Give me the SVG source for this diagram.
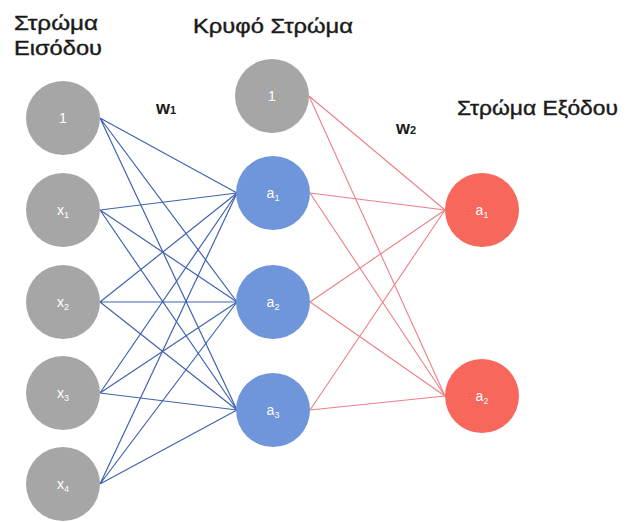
<svg xmlns="http://www.w3.org/2000/svg" width="627" height="522" viewBox="0 0 627 522">
<style>
.in{fill:#a6a6a6}
.hid{fill:#6f95db}
.out{fill:#f8675b}
.lbl{font-family:"Liberation Sans",Arial,sans-serif;font-size:14px;fill:#ffffff;text-anchor:middle}
.sub{font-size:9px}
.title{font-family:"Liberation Sans",Arial,sans-serif;font-size:21px;fill:#1a1a1a;stroke:#1a1a1a;stroke-width:0.4}
.w{font-family:"Liberation Sans",Arial,sans-serif;font-size:18px;font-weight:bold;fill:#1a1a1a}
.ws{font-size:11px}
.bl{stroke:#3f63b0;stroke-width:1.2;fill:none}
.rd{stroke:#ee7f86;stroke-width:1.1;fill:none}
</style>
<rect width="627" height="522" fill="#ffffff"/>
<g id="connectors">
<g class="bl">
<path d="M100 118L237 193M100 118L237 302M100 118L237 410"/>
<path d="M100 210L237 193M100 210L237 302M100 210L237 410"/>
<path d="M100 302L237 193M100 302L237 302M100 302L237 410"/>
<path d="M100 393L237 193M100 393L237 302M100 393L237 410"/>
<path d="M100 484L237 193M100 484L237 302M100 484L237 410"/>
</g>
<g class="rd">
<path d="M309 96L445 210M309 96L445 396"/>
<path d="M310 193L445 210M310 193L445 396"/>
<path d="M310 302L445 210M310 302L445 396"/>
<path d="M310 410L445 210M310 410L445 396"/>
</g>
</g>
<g id="titles">
<text class="title" x="14" y="30" textLength="84" lengthAdjust="spacingAndGlyphs">Στρώμα</text>
<text class="title" x="14" y="55" textLength="88" lengthAdjust="spacingAndGlyphs">Εισόδου</text>
<text class="title" x="193" y="33" textLength="160" lengthAdjust="spacingAndGlyphs">Κρυφό Στρώμα</text>
<text class="title" x="457" y="115" textLength="161" lengthAdjust="spacingAndGlyphs">Στρώμα Εξόδου</text>
<text class="w" x="156" y="114">w<tspan class="ws">1</tspan></text>
<text class="w" x="396" y="134">w<tspan class="ws">2</tspan></text>
</g>
<g id="in-bias"><circle class="in" cx="63" cy="118" r="37"/><text class="lbl" x="63" y="123">1</text></g>
<g id="in-x1"><circle class="in" cx="63" cy="210" r="37"/><text class="lbl" x="63" y="215">x<tspan class="sub" dy="3">1</tspan></text></g>
<g id="in-x2"><circle class="in" cx="63" cy="302" r="37"/><text class="lbl" x="63" y="307">x<tspan class="sub" dy="3">2</tspan></text></g>
<g id="in-x3"><circle class="in" cx="63" cy="393" r="37"/><text class="lbl" x="63" y="398">x<tspan class="sub" dy="3">3</tspan></text></g>
<g id="in-x4"><circle class="in" cx="63" cy="484" r="37"/><text class="lbl" x="63" y="489">x<tspan class="sub" dy="3">4</tspan></text></g>
<g id="hid-bias"><circle class="in" cx="272" cy="96" r="37"/><text class="lbl" x="272" y="101">1</text></g>
<g id="hid-a1"><circle class="hid" cx="273" cy="193" r="37"/><text class="lbl" x="273" y="198">a<tspan class="sub" dy="3">1</tspan></text></g>
<g id="hid-a2"><circle class="hid" cx="273" cy="302" r="37"/><text class="lbl" x="273" y="307">a<tspan class="sub" dy="3">2</tspan></text></g>
<g id="hid-a3"><circle class="hid" cx="273" cy="410" r="37"/><text class="lbl" x="273" y="415">a<tspan class="sub" dy="3">3</tspan></text></g>
<g id="out-a1"><circle class="out" cx="482" cy="210" r="37"/><text class="lbl" x="482" y="215">a<tspan class="sub" dy="3">1</tspan></text></g>
<g id="out-a2"><circle class="out" cx="482" cy="396" r="37"/><text class="lbl" x="482" y="401">a<tspan class="sub" dy="3">2</tspan></text></g>
</svg>
